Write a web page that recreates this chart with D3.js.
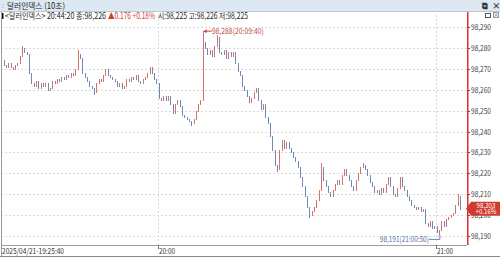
<!DOCTYPE html>
<html>
<head>
<meta charset="utf-8">
<script src="https://cdn.jsdelivr.net/npm/d3@7"></script>
<style>
	body { margin: 0; background: #fff; }
	svg { display: block; font-family: 'Noto Sans CJK KR', 'DejaVu Sans', sans-serif; }
</style>
</head>
<body>
<div id="chart"></div>
<script>
// 10초봉을 30초 간격으로 읽은 종가
const startTime = '2025-04-21T19:25:40';
const stepSeconds = 30;
const firstOpen = 98.274;
const closes = [
	98.273, 98.274, 98.272, 98.271, 98.273, 98.271, 98.270, 98.272, 98.273, 98.276,
	98.280, 98.278, 98.277, 98.268, 98.263, 98.262, 98.264, 98.261, 98.263, 98.262,
	98.263, 98.260, 98.261, 98.264, 98.263, 98.265, 98.264, 98.266, 98.265, 98.267,
	98.266, 98.268, 98.267, 98.270, 98.277, 98.275, 98.268, 98.266, 98.264, 98.262,
	98.261, 98.259, 98.263, 98.265, 98.264, 98.267, 98.270, 98.267, 98.266, 98.265,
	98.264, 98.262, 98.263, 98.261, 98.262, 98.265, 98.264, 98.266, 98.265, 98.267,
	98.264, 98.263, 98.265, 98.266, 98.268, 98.271, 98.268, 98.265, 98.263, 98.256,
	98.255, 98.257, 98.255, 98.257, 98.253, 98.249, 98.253, 98.255, 98.252, 98.248,
	98.247, 98.246, 98.245, 98.244, 98.246, 98.250, 98.253, 98.255, 98.283, 98.280,
	98.277, 98.279, 98.276, 98.281, 98.285, 98.278, 98.277, 98.279, 98.275, 98.278,
	98.276, 98.278, 98.273, 98.269, 98.267, 98.262, 98.260, 98.257, 98.254, 98.256,
	98.259, 98.261, 98.255, 98.251, 98.253, 98.247, 98.244, 98.238, 98.231, 98.224,
	98.222, 98.231, 98.236, 98.232, 98.235, 98.232, 98.230, 98.228, 98.226, 98.223,
	98.218, 98.214, 98.209, 98.204, 98.200, 98.202, 98.204, 98.207, 98.212, 98.223,
	98.217, 98.214, 98.211, 98.209, 98.212, 98.215, 98.217, 98.215, 98.219, 98.222,
	98.219, 98.217, 98.214, 98.212, 98.217, 98.220, 98.223, 98.224, 98.222, 98.219,
	98.216, 98.214, 98.211, 98.212, 98.210, 98.213, 98.211, 98.215, 98.218, 98.214,
	98.210, 98.209, 98.213, 98.218, 98.214, 98.212, 98.209, 98.207, 98.205, 98.204,
	98.203, 98.204, 98.202, 98.203, 98.196, 98.195, 98.197, 98.194, 98.195, 98.192,
	98.193, 98.197, 98.195, 98.198, 98.199, 98.200, 98.201, 98.205, 98.209, 98.203
];
// [봉 번호, 꼬리 값]
const wickHighs = [[10, 98.281], [34, 98.279], [88, 98.288], [94, 98.286], [139, 98.225], [157, 98.225], [198, 98.210]];
const wickLows = [[41, 98.258], [83, 98.243], [120, 98.221], [134, 98.199], [190, 98.191]];

const highMark = { time: '2025-04-21T20:09:40', price: 98.288, label: '98,288(20:09:40)' };
const lowMark = { time: '2025-04-21T21:00:50', price: 98.191, label: '98,191(21:00:50)' };

const yTicks = [98.19, 98.20, 98.21, 98.22, 98.23, 98.24, 98.25, 98.26, 98.27, 98.28, 98.29];
const xTickTimes = ['2025-04-21T20:00:00', '2025-04-21T21:00:00'];
const xTickLabels = ['20:00', '21:00'];
const firstLabel = '2025/04/21-19:25:40';

const titleText = '달러인덱스 (10초)';
const infoHead = '<달러인덱스> 20:44:20 종:98,226';
const infoChange = '▲0.176 +0.18%';
const infoTail = '시:98,225 고:98,226 저:98,225';
const lastChange = '+0.16%';

window.onload = function() {

	const width = 500;
	const height = 257;
	const plot = { left: 1, right: 467, top: 12, bottom: 245 };

	const upColor = '#d9716c';
	const downColor = '#7189b8';

	const parse = d3.timeParse('%Y-%m-%dT%H:%M:%S');
	const start = parse(startTime);
	const priceFmt = v => d3.format('.3f')(v).replace('.', ',');

	const data = closes.map((c, i) => {
		const open = i === 0 ? firstOpen : closes[i - 1];
		return {
			date: new Date(start.getTime() + i * stepSeconds * 1000),
			open: open,
			close: c,
			high: Math.max(open, c),
			low: Math.min(open, c)
		};
	});
	wickHighs.forEach(([i, v]) => { data[i].high = Math.max(data[i].high, v); });
	wickLows.forEach(([i, v]) => { data[i].low = Math.min(data[i].low, v); });

	const svg = d3.select('#chart')
		.append('svg')
		.attr('width', width)
		.attr('height', height)

	const xScale = d3.scaleTime()
		.domain([parse(xTickTimes[0]), parse(xTickTimes[1])])
		.range([158, 436])

	const yScale = d3.scaleLinear()
		.domain([98.19, 98.29])
		.range([236, 27])

	const addText = (x, y, size, fill, len, str) => svg.append('text')
		.attr('x', x).attr('y', y)
		.attr('font-size', size)
		.attr('fill', fill)
		.attr('textLength', len)
		.attr('lengthAdjust', 'spacingAndGlyphs')
		.text(str)

	// 제목줄
	svg.append('rect')
		.attr('x', 0).attr('y', 0)
		.attr('width', width).attr('height', 11)
		.attr('fill', '#dde8f3')
	svg.append('line')
		.attr('x1', 0).attr('x2', width)
		.attr('y1', 11.5).attr('y2', 11.5)
		.attr('stroke', '#b7c9dc')
	svg.append('text')
		.attr('x', 2).attr('y', 8)
		.attr('font-size', 7)
		.attr('fill', '#8a9bb0')
		.text(':')
	addText(7, 9, 8.5, '#222', 58, titleText)
	svg.append('text')
		.attr('x', 482).attr('y', 9)
		.attr('font-size', 8)
		.attr('font-weight', 'bold')
		.attr('fill', '#333')
		.text('⧉')
	svg.append('text')
		.attr('x', 492).attr('y', 9)
		.attr('font-size', 8.5)
		.attr('font-weight', 'bold')
		.attr('fill', '#333')
		.text('×')

	// 정보줄
	svg.append('rect')
		.attr('x', 2).attr('y', 13)
		.attr('width', 1.5).attr('height', 6)
		.attr('fill', '#111')
	addText(5, 19, 8.5, '#222', 101, infoHead)
	addText(108, 19, 8.5, '#d23a2e', 47, infoChange)
	addText(158, 19, 8.5, '#222', 90, infoTail)

	// 격자
	svg.append('g')
		.selectAll('line')
		.data(yTicks)
		.join('line')
		.attr('x1', plot.left).attr('x2', plot.right)
		.attr('y1', d => Math.round(yScale(d)) + 0.5)
		.attr('y2', d => Math.round(yScale(d)) + 0.5)
		.attr('stroke', '#dadada')
		.attr('stroke-dasharray', '2,2')

	svg.append('g')
		.selectAll('line')
		.data(xTickTimes)
		.join('line')
		.attr('x1', d => Math.round(xScale(parse(d))) + 0.5)
		.attr('x2', d => Math.round(xScale(parse(d))) + 0.5)
		.attr('y1', plot.top + 3).attr('y2', plot.bottom)
		.attr('stroke', '#dadada')
		.attr('stroke-dasharray', '2,2')

	// 봉
	const candles = svg.append('g')
		.attr('shape-rendering', 'crispEdges')

	candles.selectAll('line')
		.data(data)
		.join('line')
		.attr('x1', d => Math.round(xScale(d.date)) + 0.5)
		.attr('x2', d => Math.round(xScale(d.date)) + 0.5)
		.attr('y1', d => yScale(d.high))
		.attr('y2', d => yScale(d.low) + 1)
		.attr('stroke', d => d.close >= d.open ? upColor : downColor)
		.attr('stroke-width', 1)

	// 최고, 최저 표시
	const hx = xScale(parse(highMark.time));
	const hy = yScale(highMark.price);
	svg.append('path')
		.attr('d', `M${hx + 1},${hy} L${hx + 9},${hy}`)
		.attr('stroke', '#c8463c')
		.attr('fill', 'none')
	svg.append('path')
		.attr('d', `M${hx + 1},${hy} l3,-2 l0,4 z`)
		.attr('fill', '#c8463c')
	addText(hx + 9, hy + 3, 8, '#c0483e', 52, highMark.label)

	const lx = xScale(parse(lowMark.time));
	const ly = yScale(lowMark.price);
	svg.append('path')
		.attr('d', `M${lx - 11},${ly + 5.5} L${lx},${ly + 5.5} L${lx},${ly + 1}`)
		.attr('stroke', '#6a86ad')
		.attr('fill', 'none')
	addText(lx - 60, ly + 8.5, 8, '#55729c', 49, lowMark.label)

	// 테두리, 시간축
	svg.append('line')
		.attr('x1', 1.5).attr('x2', 1.5)
		.attr('y1', 12).attr('y2', height)
		.attr('stroke', '#9a9a9a')
	svg.append('line')
		.attr('x1', plot.left).attr('x2', plot.right)
		.attr('y1', plot.bottom + 0.5).attr('y2', plot.bottom + 0.5)
		.attr('stroke', '#a0a0a0')
	svg.append('line')
		.attr('x1', 0).attr('x2', width)
		.attr('y1', height - 0.5).attr('y2', height - 0.5)
		.attr('stroke', '#888')

	const xAxis = svg.append('g')
	xAxis.selectAll('line')
		.data(xTickTimes)
		.join('line')
		.attr('x1', d => Math.round(xScale(parse(d))) + 0.5)
		.attr('x2', d => Math.round(xScale(parse(d))) + 0.5)
		.attr('y1', plot.bottom).attr('y2', plot.bottom + 4)
		.attr('stroke', '#777')
	xAxis.selectAll('text')
		.data(xTickLabels)
		.join('text')
		.attr('x', (d, i) => Math.round(xScale(parse(xTickTimes[i]))) + 1)
		.attr('y', 254)
		.attr('font-size', 8)
		.attr('fill', '#333')
		.attr('textLength', 16)
		.attr('lengthAdjust', 'spacingAndGlyphs')
		.text(d => d)
	addText(2, 254, 8, '#333', 62, firstLabel)

	// 가격축
	const yAxis = svg.append('g')
	yAxis.selectAll('line')
		.data(yTicks)
		.join('line')
		.attr('x1', plot.right + 1).attr('x2', plot.right + 3)
		.attr('y1', d => Math.round(yScale(d)) + 0.5)
		.attr('y2', d => Math.round(yScale(d)) + 0.5)
		.attr('stroke', '#555')
	yAxis.selectAll('text')
		.data(yTicks)
		.join('text')
		.attr('x', 471)
		.attr('y', d => yScale(d) + 3)
		.attr('font-size', 8)
		.attr('fill', '#444')
		.attr('textLength', 20)
		.attr('lengthAdjust', 'spacingAndGlyphs')
		.text(d => priceFmt(d))

	svg.append('line')
		.attr('x1', plot.right + 0.75).attr('x2', plot.right + 0.75)
		.attr('y1', 12).attr('y2', plot.bottom)
		.attr('stroke', '#d2352b')
		.attr('stroke-width', 1.5)

	// 작은 버튼
	svg.append('rect')
		.attr('x', 485.5).attr('y', 13.5)
		.attr('width', 5).attr('height', 4)
		.attr('fill', '#fff').attr('stroke', '#555')
	svg.append('rect')
		.attr('x', 493.5).attr('y', 12.5)
		.attr('width', 5).attr('height', 5)
		.attr('fill', '#fff').attr('stroke', '#999')
	svg.append('text')
		.attr('x', 496).attr('y', 17)
		.attr('text-anchor', 'middle')
		.attr('font-size', 6)
		.attr('fill', '#555')
		.text('×')

	// 현재가
	const last = data[data.length - 1];
	const cy = yScale(last.close);
	svg.append('path')
		.attr('d', `M${plot.right - 1},${cy} L${plot.right + 4},${cy - 7} L${width},${cy - 7} L${width},${cy + 7} L${plot.right + 4},${cy + 7} Z`)
		.attr('fill', '#cf3b2e')
	addText(476.5, cy - 1, 7, '#fff', 19, priceFmt(last.close))
	addText(475.5, cy + 5.5, 7, '#fff', 21, lastChange)
}
</script>
</body>
</html>
